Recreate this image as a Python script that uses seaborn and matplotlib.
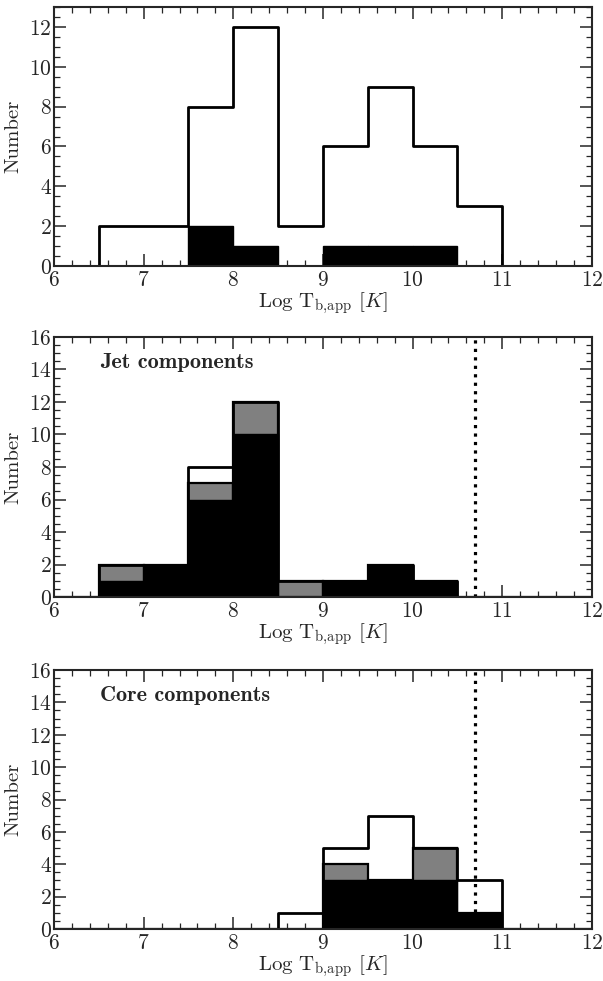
import numpy as np
import pandas as pd
import matplotlib
matplotlib.use("Agg")
import matplotlib.pyplot as plt
from matplotlib.ticker import MultipleLocator
import seaborn as sns

sns.set_style("ticks")
plt.rcParams.update({
    "font.family": ["cmr10", "DejaVu Serif"],
    "mathtext.fontset": "cm",
    "axes.formatter.use_mathtext": True,
    "axes.unicode_minus": False,
    "axes.linewidth": 1.5,
    "xtick.direction": "in",
    "ytick.direction": "in",
})

# ---------------- data ----------------
edges = [6.0, 6.5, 7.0, 7.5, 8.0, 8.5, 9.0, 9.5, 10.0, 10.5, 11.0, 11.5, 12.0]
centers = [6.25, 6.75, 7.25, 7.75, 8.25, 8.75, 9.25, 9.75, 10.25, 10.75, 11.25, 11.75]

# Panel 1 (all)
all_open  = [0, 2, 2, 8, 12, 2, 6, 9, 6, 3, 0, 0]
all_black = [0, 0, 0, 2, 1, 0, 1, 1, 1, 0, 0, 0]

# Panel 2 (jet components)
jet_open  = [0, 2, 2, 8, 12, 1, 1, 2, 1, 0, 0, 0]
jet_gray  = [0, 2, 2, 7, 12, 1, 1, 2, 1, 0, 0, 0]
jet_black = [0, 1, 2, 6, 10, 0, 1, 2, 1, 0, 0, 0]

# Panel 3 (core components)
core_open  = [0, 0, 0, 0, 0, 1, 5, 7, 5, 3, 0, 0]
core_gray  = [0, 0, 0, 0, 0, 0, 4, 3, 5, 1, 0, 0]
core_black = [0, 0, 0, 0, 0, 0, 3, 3, 3, 1, 0, 0]

limit_line = 10.7
panel_titles = [None, "Jet components", "Core components"]
ylims = [13, 16, 16]
xlabel = r"Log T$_{\text{b,app}}$ [$K$]"
ylabel = "Number"

# ---------------- figure ----------------
fig = plt.figure(figsize=(6.03, 9.81), dpi=100)
L, W = 0.0896, 0.892
rects = [
    [L, 0.7288, W, 0.2641],
    [L, 0.3914, W, 0.2651],
    [L, 0.0530, W, 0.2640],
]
panels = [
    (all_open, None, all_black),
    (jet_open, jet_gray, jet_black),
    (core_open, core_gray, core_black),
]

FS = 15.5

for i, (rect, (op, gr, bl)) in enumerate(zip(rects, panels)):
    ax = fig.add_axes(rect)
    df = pd.DataFrame({"x": centers, "open": op, "black": bl})
    sns.histplot(data=df, x="x", weights="open", bins=edges, element="step",
                 fill=False, color="black", linewidth=2.0, ax=ax)
    if gr is not None:
        df["gray"] = gr
        sns.histplot(data=df, x="x", weights="gray", bins=edges, element="bars",
                     fill=True, facecolor="#808080", edgecolor="black",
                     linewidth=1.6, alpha=1, ax=ax)
    sns.histplot(data=df, x="x", weights="black", bins=edges, element="bars",
                 fill=True, facecolor="black", edgecolor="black",
                 linewidth=1.0, alpha=1, ax=ax)
    if i > 0:
        ax.axvline(limit_line, color="black", linestyle=":", linewidth=2.3)
        ax.text(0.0855, 0.90, panel_titles[i], transform=ax.transAxes,
                fontsize=16, fontname="cmb10", va="center", ha="left")
    ax.set_xlim(6, 12)
    ax.set_ylim(0, ylims[i])
    ax.xaxis.set_major_locator(MultipleLocator(1))
    ax.xaxis.set_minor_locator(MultipleLocator(0.2))
    ax.yaxis.set_major_locator(MultipleLocator(2))
    ax.yaxis.set_minor_locator(MultipleLocator(0.5))
    ax.tick_params(which="both", direction="in", top=True, right=True,
                   labelsize=FS)
    ax.tick_params(which="major", length=8.6, width=1.1)
    ax.tick_params(which="minor", length=4.3, width=0.9)
    ax.tick_params(axis="x", pad=3)
    ax.tick_params(axis="y", pad=1.5)
    for s in ax.spines.values():
        s.set_linewidth(1.5)
    ax.set_xlabel(xlabel, fontsize=15, labelpad=0)
    ax.set_ylabel(ylabel, fontsize=15, labelpad=5)

fig.savefig("out.png", dpi=100)
